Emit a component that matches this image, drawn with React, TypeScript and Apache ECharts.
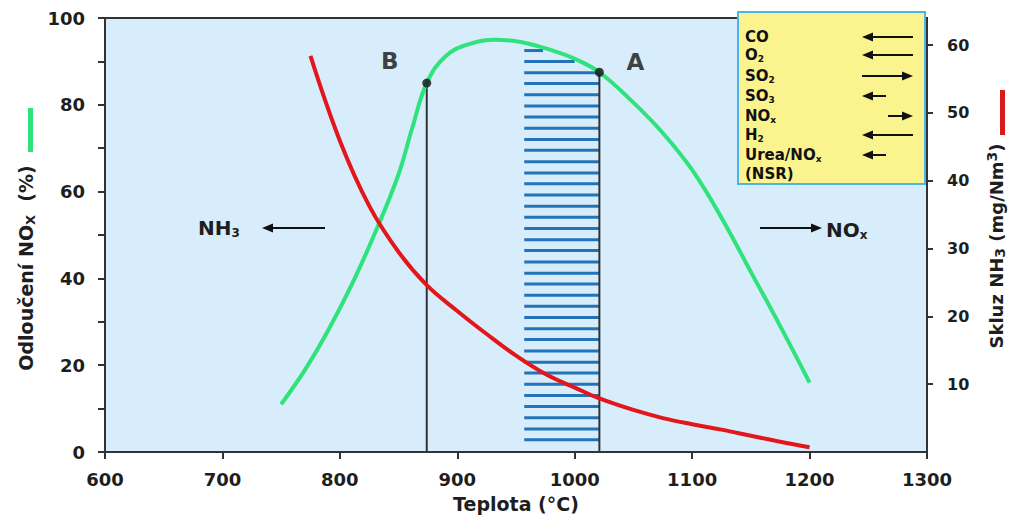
import React, { useEffect, useRef } from "react";
import * as echarts from "echarts";

// ---- data ----
const xTicks = [600, 700, 800, 900, 1000, 1100, 1200, 1300];
const noxTemp = [750, 770, 790, 810, 830, 850, 862, 874, 890, 910, 932, 955, 980, 1000, 1021, 1050, 1075, 1100, 1125, 1150, 1175, 1200];
const noxRemoval = [11, 18.8, 28, 38.5, 50.5, 64, 75, 85, 91.2, 94, 95, 94.4, 92.6, 90.6, 87.5, 80.5, 73.5, 65, 54, 41.5, 29, 16];
const nh3Temp = [775, 800, 825, 850, 874, 900, 925, 950, 975, 1000, 1021, 1050, 1075, 1100, 1125, 1150, 1175, 1200];
const nh3Slip = [58.4, 45.9, 36.3, 29.5, 24.6, 20.8, 17.4, 14.2, 11.5, 9.5, 7.9, 6.2, 5.0, 4.1, 3.3, 2.4, 1.5, 0.7];
const pointB = [874, 85];
const pointA = [1021, 87.5];
const hatchStart = 957;
const hatchLevels = [2.8, 5.3, 7.9, 10.5, 13.0, 15.6, 18.2, 20.7, 23.3, 25.9, 28.4, 31.0, 33.6, 36.1, 38.7, 41.2, 43.8, 46.4, 48.9, 51.5, 54.1, 56.6, 59.2, 61.8, 64.3, 66.9, 69.5, 72.0, 74.6, 77.2, 79.7, 82.3, 84.9, 87.4, 90.0, 92.5];
const hatchEnds = [1021, 1021, 1021, 1021, 1021, 1021, 1021, 1021, 1021, 1021, 1021, 1021, 1021, 1021, 1021, 1021, 1021, 1021, 1021, 1021, 1021, 1021, 1021, 1021, 1021, 1021, 1021, 1021, 1021, 1021, 1021, 1021, 1021, 1021, 1000, 973];
const boxLabels = ["CO", "O{s|2}", "SO{s|2}", "SO{s|3}", "NO{s|x}", "H{s|2}", "Urea/NO{s|x}", "(NSR)"];
const boxArrows = ["left-long", "left-long", "right-long", "left-short", "right-short", "left-long", "left-short", "none"];

const FONT = "DejaVu Sans";
const TXT = "#1e1e1e";

function arrow(x1: number, x2: number, y: number, dir: "left" | "right", w = 2) {
  const head = 11;
  const hw = 4.5;
  const els: any[] = [];
  if (dir === "left") {
    els.push({ type: "line", z: 101, shape: { x1: x1 + head - 2, y1: y, x2, y2: y }, style: { stroke: "#111", lineWidth: w } });
    els.push({ type: "polygon", z: 101, shape: { points: [[x1, y], [x1 + head, y - hw], [x1 + head, y + hw]] }, style: { fill: "#111" } });
  } else {
    els.push({ type: "line", z: 101, shape: { x1, y1: y, x2: x2 - head + 2, y2: y }, style: { stroke: "#111", lineWidth: w } });
    els.push({ type: "polygon", z: 101, shape: { points: [[x2, y], [x2 - head, y - hw], [x2 - head, y + hw]] }, style: { fill: "#111" } });
  }
  return els;
}

export default function App() {
  const ref = useRef<HTMLDivElement>(null);
  useEffect(() => {
    document.body.style.margin = "0";
    const chart = echarts.init(ref.current!, null, { renderer: "svg" });

    const subRich = {
      s: { fontFamily: FONT, fontWeight: "bold", fontSize: 9, fill: "#111", color: "#111", padding: [7, 0, 0, 0] },
    };

    const boxEls: any[] = [
      { type: "rect", z: 100, shape: { x: 738, y: 12, width: 187, height: 172 }, style: { fill: "#fbf48e", stroke: "#4cb4e8", lineWidth: 2 } },
    ];
    const rowY = [37, 55, 76, 96, 116, 135, 155, 174];
    boxLabels.forEach((t, i) => {
      boxEls.push({
        type: "text", z: 101, x: 745, y: rowY[i],
        style: { text: t, fontFamily: FONT, fontWeight: "bold", fontSize: 15, fill: "#111", verticalAlign: "middle", rich: subRich },
      });
      const a = boxArrows[i];
      if (a === "left-long") boxEls.push(...arrow(862, 913, rowY[i], "left"));
      if (a === "right-long") boxEls.push(...arrow(862, 913, rowY[i], "right"));
      if (a === "left-short") boxEls.push(...arrow(862, 886, rowY[i], "left"));
      if (a === "right-short") boxEls.push(...arrow(888, 913, rowY[i], "right"));
    });

    const bigSub = { s: { fontFamily: FONT, fontWeight: "bold", fontSize: 12, fill: TXT, color: TXT, padding: [10, 0, 0, 0] } };

    const option: any = {
      animation: false,
      grid: { left: 105, right: 92, top: 18, bottom: 67, show: true, backgroundColor: "#d7edfb", borderColor: "#333", borderWidth: 2 },
      xAxis: {
        type: "value", min: xTicks[0], max: xTicks[xTicks.length - 1], interval: 100,
        axisLine: { lineStyle: { color: "#333", width: 2 } },
        axisTick: { length: 7, lineStyle: { color: "#333", width: 2 } },
        axisLabel: { fontFamily: FONT, fontWeight: "bold", fontSize: 18, color: TXT, margin: 18, formatter: (v: number) => String(v) },
        splitLine: { show: false },
        name: "Teplota (°C)", nameLocation: "middle", nameGap: 42,
        nameTextStyle: { fontFamily: FONT, fontWeight: "bold", fontSize: 19, color: TXT },
      },
      yAxis: [
        {
          type: "value", min: 0, max: 100, interval: 10,
          axisLine: { show: true, lineStyle: { color: "#333", width: 2 } },
          axisTick: { length: 7, lineStyle: { color: "#333", width: 2 } },
          axisLabel: { fontFamily: FONT, fontWeight: "bold", fontSize: 18, color: TXT, margin: 20, formatter: (v: number) => (v % 20 === 0 ? String(v) : "") },
          splitLine: { show: false },
          name: "Odloučení NO{s|X}  (%)", nameLocation: "middle", nameRotate: 90, nameGap: 60,
          nameTextStyle: { fontFamily: FONT, fontWeight: "bold", fontSize: 19, color: TXT, padding: [0, 66, 0, 0], rich: { s: { fontFamily: FONT, fontWeight: "bold", fontSize: 13, color: TXT, padding: [8, 0, 0, 0] } } },
        },
        {
          type: "value", min: 0, max: 64, interval: 10, position: "right",
          axisLine: { show: true, lineStyle: { color: "#333", width: 2 } },
          axisTick: { length: 6, lineStyle: { color: "#333", width: 2 } },
          axisLabel: { fontFamily: FONT, fontWeight: "bold", fontSize: 16, color: TXT, margin: 20, showMinLabel: false, showMaxLabel: false },
          splitLine: { show: false },
          name: "Skluz NH{s|3} (mg/Nm{p|3})", nameLocation: "middle", nameRotate: 90, nameGap: 58,
          nameTextStyle: {
            fontFamily: FONT, fontWeight: "bold", fontSize: 18, color: TXT, padding: [0, 22, 0, 0],
            rich: {
              s: { fontFamily: FONT, fontWeight: "bold", fontSize: 14, color: TXT, padding: [8, 0, 0, 0] },
              p: { fontFamily: FONT, fontWeight: "bold", fontSize: 14, color: TXT, padding: [0, 0, 8, 0] },
            },
          },
        },
      ],
      series: [
        {
          type: "custom", name: "hatch", z: 1, clip: false,
          renderItem: (params: any, api: any) => {
            const v = api.value(0);
            const xe = api.value(1);
            const p1 = api.coord([hatchStart, v]);
            const p2 = api.coord([xe, v]);
            return { type: "line", shape: { x1: p1[0], y1: p1[1], x2: p2[0], y2: p2[1] }, style: { stroke: "#2373ba", lineWidth: 3 } };
          },
          encode: { x: 1, y: 0 },
          data: hatchLevels.map((v, i) => [v, hatchEnds[i]]),
        },
        {
          type: "line", name: "B line", z: 2, symbol: "none", lineStyle: { color: "#333", width: 2 },
          data: [[pointB[0], 0], [pointB[0], pointB[1]]],
        },
        {
          type: "line", name: "A line", z: 2, symbol: "none", lineStyle: { color: "#333", width: 2 },
          data: [[pointA[0], 0], [pointA[0], pointA[1]]],
        },
        {
          type: "line", name: "NOx", z: 3, smooth: 0.4, symbol: "none", lineStyle: { color: "#30e27c", width: 4 },
          data: noxTemp.map((t, i) => [t, noxRemoval[i]]),
        },
        {
          type: "line", name: "NH3", yAxisIndex: 1, z: 3, smooth: 0.4, symbol: "none", lineStyle: { color: "#e3171b", width: 4 },
          data: nh3Temp.map((t, i) => [t, nh3Slip[i]]),
        },
        {
          type: "scatter", name: "points", z: 5, symbolSize: 9, itemStyle: { color: "#111" },
          data: [
            { value: pointB, label: { show: true, formatter: "B", offset: [-37, -22] } },
            { value: pointA, label: { show: true, formatter: "A", offset: [36, -10] } },
          ],
          label: { fontFamily: FONT, fontWeight: "bold", fontSize: 23, color: "#111", position: "inside" },
        },
      ],
      graphic: [
        ...boxEls,
        { type: "rect", z: 100, shape: { x: 28, y: 108, width: 5, height: 44 }, style: { fill: "#2fe27b" } },
        { type: "rect", z: 100, shape: { x: 1000, y: 90, width: 5, height: 45 }, style: { fill: "#d81a1a" } },
        { type: "text", z: 100, x: 198, y: 228, style: { text: "NH{s|3}", fontFamily: FONT, fontWeight: "bold", fontSize: 20, fill: TXT, verticalAlign: "middle", rich: bigSub } },
        ...arrow(262, 325, 228, "left"),
        ...arrow(760, 822, 228, "right"),
        { type: "text", z: 100, x: 826, y: 230, style: { text: "NO{s|x}", fontFamily: FONT, fontWeight: "bold", fontSize: 20, fill: TXT, verticalAlign: "middle", rich: bigSub } },
      ],
    };
    chart.setOption(option);
    return () => chart.dispose();
  }, []);
  return <div ref={ref} style={{ width: 1019, height: 519 }} />;
}
